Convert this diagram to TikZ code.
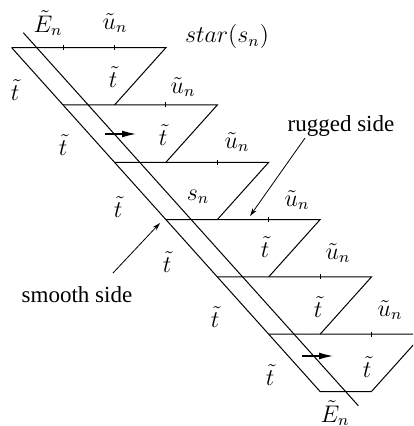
\documentclass[tikz,border=0pt]{standalone}
\usepackage{fontspec}
\setmainfont{Liberation Serif}
\usetikzlibrary{arrows.meta}

\begin{document}
\begin{tikzpicture}[
  x = 0.5pt, y = -0.5pt,
  edge/.style     = {line width=0.5pt, line join=miter},
  tickmark/.style = {line width=0.5pt},
  lbl/.style      = {inner sep=0pt, font=\large},
  sidetext/.style = {inner sep=0pt, font=\fontsize{11.5}{14}\selectfont},
  pointer/.style  = {-{Stealth[length=4pt,width=2.4pt]}, line width=0.4pt},
  move/.style     = {-{Latex[length=7pt,width=3.5pt]}, line width=0.6pt},
]
\useasboundingbox (0,0) rectangle (413,426);
\clip (0,0) rectangle (413,426);

%% --- Staircase of rows ---
\foreach \k in {0,...,5}{
  \draw[edge] ({11.7+51.4*\k},{47.7+57.3*\k}) -- ++(154.2,0) -- ++(-51.4,57.3);
  \draw[tickmark] ({11.7+51.4*(\k+2)},{45.2+57.3*\k}) -- ++(0,5);
}
\draw[tickmark] (63.1,45.2) -- ++(0,5);

%% --- Smooth side and bottom ---
\coordinate (ltop) at (11.7,47.7);
\coordinate (lbot) at (320.1,391.5);
\coordinate (rbot) at (371.5,391.5);
\draw[edge] (ltop) -- (lbot) -- (rbot);

%% --- Edge E_n ---
\coordinate (etop) at (23.3,32.7);
\coordinate (ebot) at (358.3,405.7);
\draw[edge] (etop) -- (ebot);
\node[lbl] (etopl) at (48,23)  {$\tilde{E}_n$};
\node[lbl] (ebotl) at (335,413) {$\tilde{E}_n$};

%% --- Top labels ---
\node[lbl] (u0)   at (115,23) {$\tilde{u}_n$};
\node[lbl] (star) at (227,37) {$star(s_n)$};

%% --- Labels in the rows ---
\node[lbl] (t0) at (113,77)  {$\tilde{t}$};
\node[lbl] (t1) at (163,135) {$\tilde{t}$};
\node[lbl] (sn) at (198,197) {$s_n$};
\node[lbl] (t3) at (265,247) {$\tilde{t}$};
\node[lbl] (t4) at (318,307) {$\tilde{t}$};
\node[lbl] (t5) at (367,367) {$\tilde{t}$};

\node[lbl] (u1) at (183,87)  {$\tilde{u}_n$};
\node[lbl] (u2) at (237,142) {$\tilde{u}_n$};
\node[lbl] (u3) at (297,200) {$\tilde{u}_n$};
\node[lbl] (u4) at (338,253) {$\tilde{u}_n$};
\node[lbl] (u5) at (390,310) {$\tilde{u}_n$};

%% --- Labels left of the smooth side ---
\node[lbl] (s0) at (15,90)   {$\tilde{t}$};
\node[lbl] (s1) at (63,145)  {$\tilde{t}$};
\node[lbl] (s2) at (118,207) {$\tilde{t}$};
\node[lbl] (s3) at (167,262) {$\tilde{t}$};
\node[lbl] (s4) at (215,317) {$\tilde{t}$};
\node[lbl] (s5) at (270,375) {$\tilde{t}$};

%% --- Moves ---
\coordinate (m1a) at (105,134);
\coordinate (m1b) at (136,134);
\coordinate (m5a) at (302,356);
\coordinate (m5b) at (333,356);
\draw[move] (m1a) -- (m1b);
\draw[move] (m5a) -- (m5b);

%% --- Side annotations ---
\node[sidetext] (rugged) at (341,126) {rugged side};
\node[sidetext] (smooth) at (77,295)  {smooth side};
\coordinate (rgfrom) at (305,138);
\coordinate (rgto)   at (250,216);
\coordinate (smfrom) at (113,273);
\coordinate (smto)   at (160,223);
\draw[pointer] (rgfrom) -- (rgto);
\draw[pointer] (smfrom) -- (smto);

\end{tikzpicture}
\end{document}
